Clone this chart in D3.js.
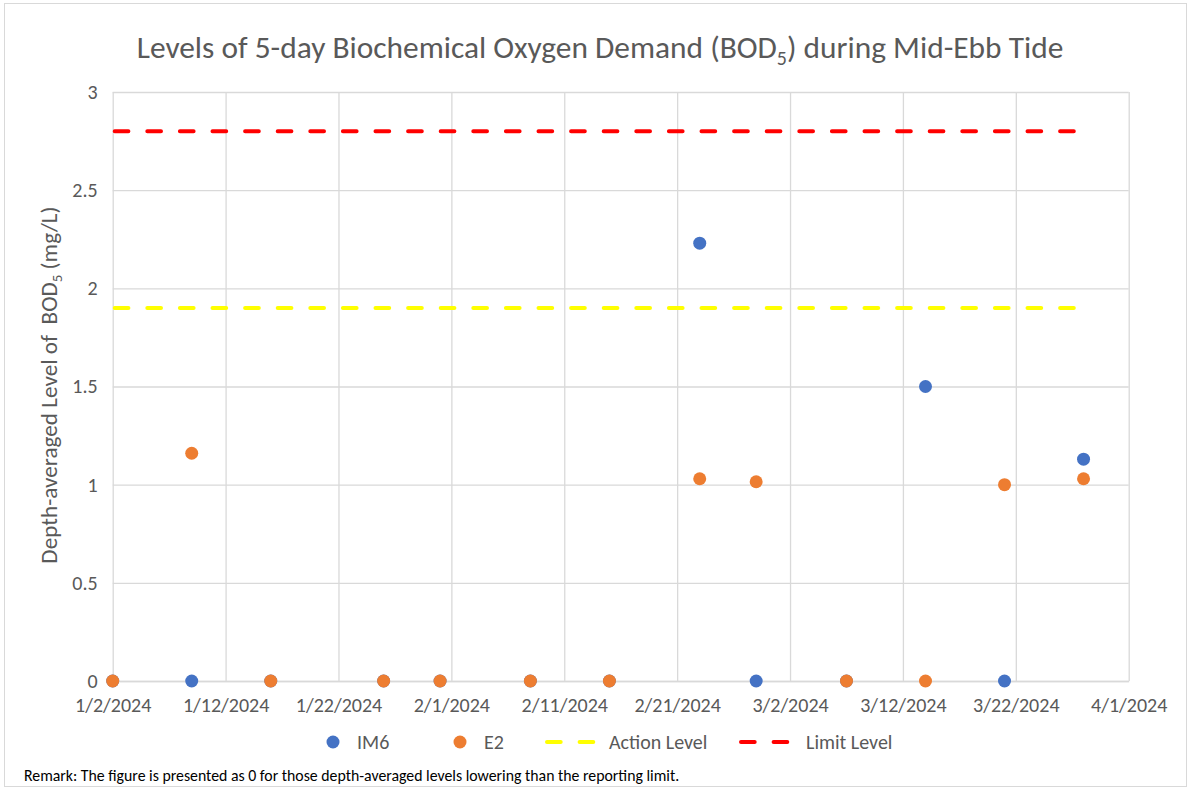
<!DOCTYPE html>
<html>
<head>
<meta charset="utf-8">
<script src="https://cdn.jsdelivr.net/npm/d3@7"></script>
<style>
  body { margin: 0; background: #fff; }
  svg { display: block; font-family: Carlito, "Noto Sans", sans-serif; }
</style>
</head>
<body>
<div id="chart"></div>
<script>
// sampling dates and depth-averaged BOD5 (mg/L)
var sampleDates = ["2024-01-02","2024-01-09","2024-01-16","2024-01-26","2024-01-31","2024-02-08","2024-02-15",
                   "2024-02-23","2024-02-28","2024-03-07","2024-03-14","2024-03-21","2024-03-28"];
var im6 = [0, 0, 0, 0, 0, 0, 0, 2.23, 0, 0, 1.5, 0, 1.13];
var e2  = [0, 1.16, 0, 0, 0, 0, 0, 1.03, 1.015, 0, 0, 1.0, 1.03];
var actionLevel = 1.9;
var limitLevel = 2.8;
var xTickLabels = ["1/2/2024","1/12/2024","1/22/2024","2/1/2024","2/11/2024","2/21/2024","3/2/2024","3/12/2024","3/22/2024","4/1/2024"];
var yTicks = [0, 0.5, 1, 1.5, 2, 2.5, 3];

var W = 1190, H = 789;
var margin = { top: 92, right: 61.3, bottom: 108, left: 112.7 };
var width = W - margin.left - margin.right,
    height = H - margin.top - margin.bottom;
var font = "Carlito, 'Noto Sans', sans-serif";

var parseIso = d3.utcParse("%Y-%m-%d");
var parseTick = d3.utcParse("%m/%d/%Y");
var tickDates = xTickLabels.map(function (s) { return parseTick(s); });
var fmtTick = function (d) { return (d.getUTCMonth() + 1) + "/" + d.getUTCDate() + "/" + d.getUTCFullYear(); };

var svg = d3.select("#chart").append("svg")
    .attr("width", W).attr("height", H);

// outer chart frame
svg.append("rect")
    .attr("x", 4.5).attr("y", 3.5)
    .attr("width", W - 8).attr("height", H - 6)
    .attr("fill", "none").attr("stroke", "#d9d9d9");

var g = svg.append("g")
    .attr("transform", "translate(" + margin.left + "," + margin.top + ")");

var x = d3.scaleUtc()
    .domain([tickDates[0], tickDates[tickDates.length - 1]])
    .range([0, width]);
var y = d3.scaleLinear()
    .domain([0, 3])
    .range([height, 0]);

// gridlines
g.append("g")
    .attr("class", "grid")
    .call(d3.axisLeft(y).tickValues(yTicks).tickSize(-width).tickFormat(""))
    .call(function (s) { s.select(".domain").remove(); });
g.append("g")
    .attr("class", "grid")
    .attr("transform", "translate(0," + height + ")")
    .call(d3.axisBottom(x).tickValues(tickDates).tickSize(-height).tickFormat(""))
    .call(function (s) { s.select(".domain").remove(); });
g.selectAll(".grid line").attr("stroke", "#d9d9d9").attr("stroke-width", 1.3);

// axis labels
var yAxis = g.append("g")
    .call(d3.axisLeft(y).tickValues(yTicks).tickSize(0).tickPadding(15).tickFormat(d3.format("")));
yAxis.select(".domain").remove();
yAxis.selectAll("text").attr("font-size", 20).attr("fill", "#595959").style("font-family", font);

var xAxis = g.append("g")
    .attr("transform", "translate(0," + height + ")")
    .call(d3.axisBottom(x).tickValues(tickDates).tickSize(0).tickPadding(17).tickFormat(fmtTick));
xAxis.select(".domain").attr("stroke", "#d9d9d9").attr("stroke-width", 1.3);
xAxis.selectAll("text").attr("font-size", 20).attr("fill", "#595959").style("font-family", font);

// level lines
var dash = "13.7,18.9";
var levelLine = d3.line()
    .x(function (d) { return x(d.date); })
    .y(function (d) { return y(d.value); });
var levels = [
    { name: "Action Level", value: actionLevel, color: "#ffff00" },
    { name: "Limit Level", value: limitLevel, color: "#ff0000" }
];
levels.forEach(function (lv) {
    var pts = sampleDates.map(function (s) { return { date: parseIso(s), value: lv.value }; });
    g.append("path")
        .datum(pts)
        .attr("fill", "none")
        .attr("stroke", lv.color)
        .attr("stroke-width", 4)
        .attr("stroke-linecap", "round")
        .attr("stroke-dasharray", dash)
        .attr("transform", "translate(2,0)")
        .attr("d", levelLine);
});

// points
var series = [
    { name: "IM6", values: im6, color: "#4472c4" },
    { name: "E2", values: e2, color: "#ed7d31" }
];
series.forEach(function (s) {
    g.append("g")
        .selectAll("circle")
        .data(sampleDates.map(function (d, i) { return { date: parseIso(d), value: s.values[i] }; }))
        .enter()
        .append("circle")
        .attr("cx", function (d) { return x(d.date); })
        .attr("cy", function (d) { return y(d.value); })
        .attr("r", 6.5)
        .attr("fill", s.color);
});

// title
var title = svg.append("text")
    .attr("x", 600).attr("y", 58)
    .attr("text-anchor", "middle")
    .attr("font-size", 31.4)
    .attr("fill", "#595959");
title.append("tspan").text("Levels of 5-day Biochemical Oxygen Demand (BOD");
title.append("tspan").attr("font-size", 20).attr("dy", 7).text("5");
title.append("tspan").attr("dy", -7).text(") during Mid-Ebb Tide");

// y axis title
var yTitle = svg.append("text")
    .attr("transform", "translate(57,385) rotate(-90)")
    .attr("text-anchor", "middle")
    .attr("font-size", 23.2)
    .attr("fill", "#595959")
    .style("white-space", "pre");
yTitle.append("tspan").text("Depth-averaged Level of  BOD");
yTitle.append("tspan").attr("font-size", 15).attr("dy", 5).text("5");
yTitle.append("tspan").attr("dy", -5).text(" (mg/L)");

// legend
var legend = svg.append("g").attr("transform", "translate(0,742)");
var legItems = [
    { type: "dot", color: "#4472c4", label: "IM6", x: 333, tx: 357 },
    { type: "dot", color: "#ed7d31", label: "E2", x: 460, tx: 484 },
    { type: "line", color: "#ffff00", label: "Action Level", x: 547, tx: 609 },
    { type: "line", color: "#ff0000", label: "Limit Level", x: 741, tx: 806 }
];
legItems.forEach(function (it) {
    if (it.type == "dot") {
        legend.append("circle").attr("cx", it.x).attr("cy", 0).attr("r", 6.5).attr("fill", it.color);
    } else {
        legend.append("line")
            .attr("x1", it.x).attr("x2", it.x + 48).attr("y1", 0).attr("y2", 0)
            .attr("stroke", it.color).attr("stroke-width", 4)
            .attr("stroke-linecap", "round").attr("stroke-dasharray", dash);
    }
    legend.append("text")
        .attr("x", it.tx).attr("y", 0).attr("dy", "0.35em")
        .attr("font-size", 20).attr("fill", "#595959")
        .text(it.label);
});

// remark
svg.append("text")
    .attr("x", 24).attr("y", 781)
    .attr("font-size", 15.8)
    .attr("fill", "#000")
    .text("Remark: The figure is presented as 0 for those depth-averaged levels lowering than the reporting limit.");
</script>
</body>
</html>
